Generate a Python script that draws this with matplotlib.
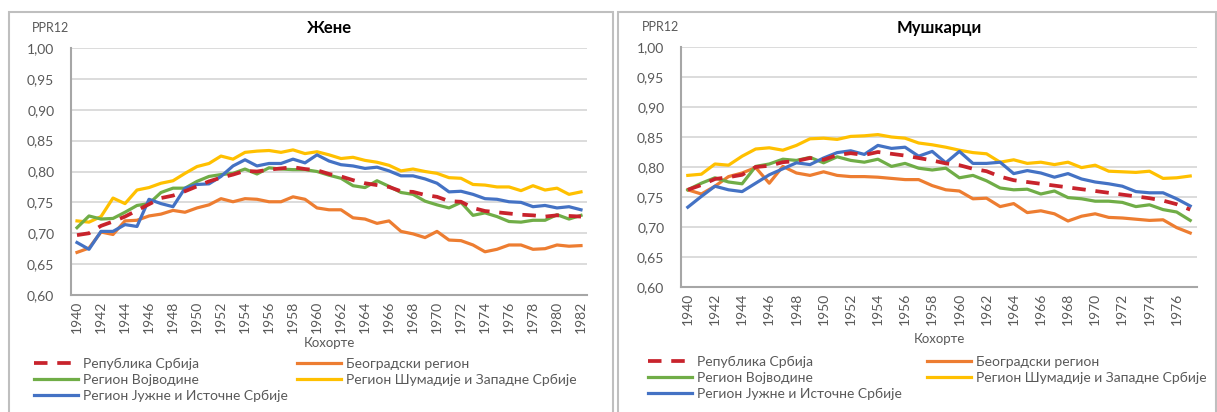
import matplotlib
matplotlib.use("Agg")
import matplotlib.pyplot as plt
from matplotlib.patches import Rectangle
from matplotlib.lines import Line2D

plt.rcParams['font.family'] = ['Lato', 'DejaVu Sans']

years_w = list(range(1940, 1983))
years_m = list(range(1940, 1978))

# Women
w_srbija = [0.697, 0.700, 0.712, 0.719, 0.727, 0.737, 0.747, 0.757, 0.761, 0.768,
            0.776, 0.784, 0.790, 0.795, 0.801, 0.800, 0.803, 0.805, 0.807, 0.804,
            0.802, 0.796, 0.792, 0.786, 0.781, 0.778, 0.775, 0.768, 0.767, 0.762,
            0.759, 0.752, 0.751, 0.741, 0.736, 0.734, 0.732, 0.730, 0.729, 0.727,
            0.729, 0.728, 0.727]
w_beograd = [0.669, 0.676, 0.702, 0.698, 0.720, 0.721, 0.728, 0.731, 0.737, 0.734,
             0.741, 0.746, 0.756, 0.751, 0.756, 0.755, 0.751, 0.751, 0.759, 0.755,
             0.741, 0.738, 0.738, 0.725, 0.723, 0.716, 0.720, 0.703, 0.699, 0.693,
             0.703, 0.689, 0.688, 0.681, 0.670, 0.674, 0.681, 0.681, 0.674, 0.675,
             0.681, 0.679, 0.680]
w_vojvodina = [0.709, 0.728, 0.723, 0.724, 0.734, 0.745, 0.748, 0.766, 0.773, 0.773,
               0.784, 0.792, 0.795, 0.797, 0.804, 0.796, 0.806, 0.804, 0.803, 0.803,
               0.800, 0.794, 0.789, 0.777, 0.774, 0.785, 0.776, 0.766, 0.763, 0.752,
               0.746, 0.741, 0.750, 0.729, 0.733, 0.727, 0.719, 0.718, 0.721, 0.721,
               0.730, 0.723, 0.729]
w_sumadija = [0.720, 0.718, 0.727, 0.757, 0.748, 0.770, 0.774, 0.781, 0.785, 0.797,
              0.808, 0.813, 0.825, 0.820, 0.831, 0.833, 0.834, 0.831, 0.835, 0.829,
              0.832, 0.827, 0.821, 0.823, 0.818, 0.815, 0.810, 0.801, 0.804, 0.800,
              0.797, 0.790, 0.789, 0.779, 0.778, 0.775, 0.775, 0.769, 0.777, 0.770,
              0.773, 0.763, 0.767]
w_jug = [0.685, 0.674, 0.703, 0.703, 0.714, 0.711, 0.755, 0.748, 0.743, 0.773,
         0.779, 0.780, 0.792, 0.809, 0.819, 0.809, 0.813, 0.813, 0.820, 0.814,
         0.827, 0.817, 0.811, 0.809, 0.805, 0.807, 0.801, 0.793, 0.793, 0.788,
         0.781, 0.767, 0.768, 0.763, 0.756, 0.755, 0.751, 0.750, 0.743, 0.745,
         0.741, 0.743, 0.738]

# Men
m_srbija = [0.762, 0.770, 0.780, 0.783, 0.787, 0.800, 0.802, 0.808, 0.810, 0.815,
            0.812, 0.820, 0.823, 0.820, 0.825, 0.822, 0.819, 0.815, 0.811, 0.806,
            0.803, 0.797, 0.793, 0.784, 0.778, 0.775, 0.772, 0.769, 0.766, 0.763,
            0.760, 0.757, 0.754, 0.751, 0.748, 0.744, 0.738, 0.729]
m_beograd = [0.762, 0.755, 0.768, 0.784, 0.790, 0.799, 0.773, 0.801, 0.790, 0.786,
             0.792, 0.786, 0.784, 0.784, 0.783, 0.781, 0.779, 0.779, 0.769, 0.762,
             0.760, 0.747, 0.748, 0.734, 0.739, 0.724, 0.727, 0.722, 0.710, 0.718,
             0.722, 0.716, 0.715, 0.713, 0.711, 0.712, 0.699, 0.690]
m_vojvodina = [0.762, 0.773, 0.782, 0.775, 0.772, 0.801, 0.805, 0.813, 0.811, 0.816,
               0.807, 0.817, 0.811, 0.808, 0.813, 0.801, 0.806, 0.798, 0.795, 0.798,
               0.782, 0.786, 0.777, 0.765, 0.762, 0.763, 0.755, 0.760, 0.749, 0.747,
               0.743, 0.743, 0.741, 0.734, 0.737, 0.729, 0.725, 0.711]
m_sumadija = [0.786, 0.788, 0.805, 0.803, 0.818, 0.830, 0.832, 0.828, 0.836, 0.847,
              0.848, 0.846, 0.851, 0.852, 0.854, 0.850, 0.848, 0.840, 0.837, 0.833,
              0.828, 0.824, 0.822, 0.808, 0.812, 0.806, 0.808, 0.804, 0.808, 0.799,
              0.803, 0.793, 0.792, 0.791, 0.793, 0.781, 0.782, 0.785]
m_jug = [0.733, 0.751, 0.768, 0.762, 0.759, 0.773, 0.787, 0.797, 0.807, 0.804,
         0.815, 0.824, 0.827, 0.821, 0.836, 0.831, 0.833, 0.818, 0.826, 0.807,
         0.826, 0.806, 0.806, 0.808, 0.789, 0.794, 0.790, 0.783, 0.789, 0.780,
         0.775, 0.772, 0.768, 0.759, 0.757, 0.757, 0.747, 0.735]

labels = ['Република Србија', 'Београдски регион', 'Регион Војводине',
          'Регион Шумадије и Западне Србије', 'Регион Јужне и Источне Србије']
titles = ['Жене', 'Мушкарци']
yticks = [0.60, 0.65, 0.70, 0.75, 0.80, 0.85, 0.90, 0.95, 1.00]

C_RED = '#C8232C'
C_ORANGE = '#ED7D31'
C_GREEN = '#70AD47'
C_YELLOW = '#FFC000'
C_BLUE = '#4472C4'
GRAY = '#595959'

W, H = 1217, 412
fig = plt.figure(figsize=(W / 100, H / 100), dpi=100)

def fx(px):
    return px / W

def fy(py):
    return 1 - py / H

# panel borders
for (x0, x1) in [(9, 613), (618, 1216)]:
    fig.patches.append(Rectangle((fx(x0), fy(430)), fx(x1 - x0), (430 - 12) / H,
                                 transform=fig.transFigure, fill=False,
                                 edgecolor='#BFBFBF', linewidth=1.5))

panels = [
    dict(rect=(71, 48, 587, 295), years=years_w,
         data=[w_srbija, w_beograd, w_vojvodina, w_sumadija, w_jug],
         title=titles[0], ppr=(32, 28), xlab_y=343, leg_y=358,
         leg_x1=34, leg_x2=297),
    dict(rect=(681, 47, 1197, 287), years=years_m,
         data=[m_srbija, m_beograd, m_vojvodina, m_sumadija, m_jug],
         title=titles[1], ppr=(642, 27), xlab_y=339, leg_y=356,
         leg_x1=648, leg_x2=927),
]

lw = 2.3
DASH = (3.6, 2.6)
for p in panels:
    x0, y0, x1, y1 = p['rect']
    ax = fig.add_axes([fx(x0), fy(y1), fx(x1 - x0), (y1 - y0) / H])
    yrs = p['years']
    d = p['data']
    ax.plot(yrs, d[1], color=C_ORANGE, lw=lw, solid_joinstyle='round', zorder=3)
    ax.plot(yrs, d[2], color=C_GREEN, lw=lw, solid_joinstyle='round', zorder=4)
    ax.plot(yrs, d[3], color=C_YELLOW, lw=lw, solid_joinstyle='round', zorder=3)
    ax.plot(yrs, d[4], color=C_BLUE, lw=lw, solid_joinstyle='round', zorder=5)
    ax.plot(yrs, d[0], color=C_RED, lw=lw + 0.4, dashes=DASH, zorder=6)
    ax.set_xlim(yrs[0] - 0.5, yrs[-1] + 0.5)
    ax.set_ylim(0.60, 1.00)
    ax.set_yticks(yticks)
    ax.set_yticklabels([f'{v:.2f}'.replace('.', ',') for v in yticks],
                       fontsize=10, color=GRAY)
    ax.set_xticks(yrs[::2])
    ax.set_xticklabels([str(y) for y in yrs[::2]], rotation=90, fontsize=10,
                       color=GRAY)
    ax.tick_params(axis='both', length=0, pad=4)
    ax.tick_params(axis='y', pad=12)
    ax.grid(axis='y', color='#D9D9D9', lw=1.3)
    ax.set_axisbelow(True)
    for s in ['top', 'right']:
        ax.spines[s].set_visible(False)
    for s in ['left', 'bottom']:
        ax.spines[s].set_color('#A6A6A6')
        ax.spines[s].set_linewidth(1.5)
    cx = (x0 + x1) / 2
    fig.text(fx(cx), fy(28), p['title'], ha='center', va='center',
             fontsize=12, fontweight='bold', color='black')
    fig.text(fx(p['ppr'][0]), fy(p['ppr'][1]), 'PPR12', ha='left', va='center',
             fontsize=9, color=GRAY)
    fig.text(fx(cx), fy(p['xlab_y']), 'Кохорте', ha='center', va='center',
             fontsize=9.5, color=GRAY)
    h1 = [Line2D([], [], color=C_RED, lw=lw + 0.4, dashes=DASH),
          Line2D([], [], color=C_GREEN, lw=lw),
          Line2D([], [], color=C_BLUE, lw=lw)]
    h2 = [Line2D([], [], color=C_ORANGE, lw=lw),
          Line2D([], [], color=C_YELLOW, lw=lw)]
    for hs, ls, lx in [(h1, [labels[0], labels[2], labels[4]], p['leg_x1']),
                       (h2, [labels[1], labels[3]], p['leg_x2'])]:
        leg = fig.legend(hs, ls, loc='upper left',
                         bbox_to_anchor=(fx(lx), fy(p['leg_y'])),
                         ncol=1, frameon=False, fontsize=10, handlelength=3.2,
                         handletextpad=0.3, labelspacing=0.28,
                         borderaxespad=0, borderpad=0)
        for t in leg.get_texts():
            t.set_color(GRAY)

fig.savefig('out.png', dpi=100, facecolor='white')
